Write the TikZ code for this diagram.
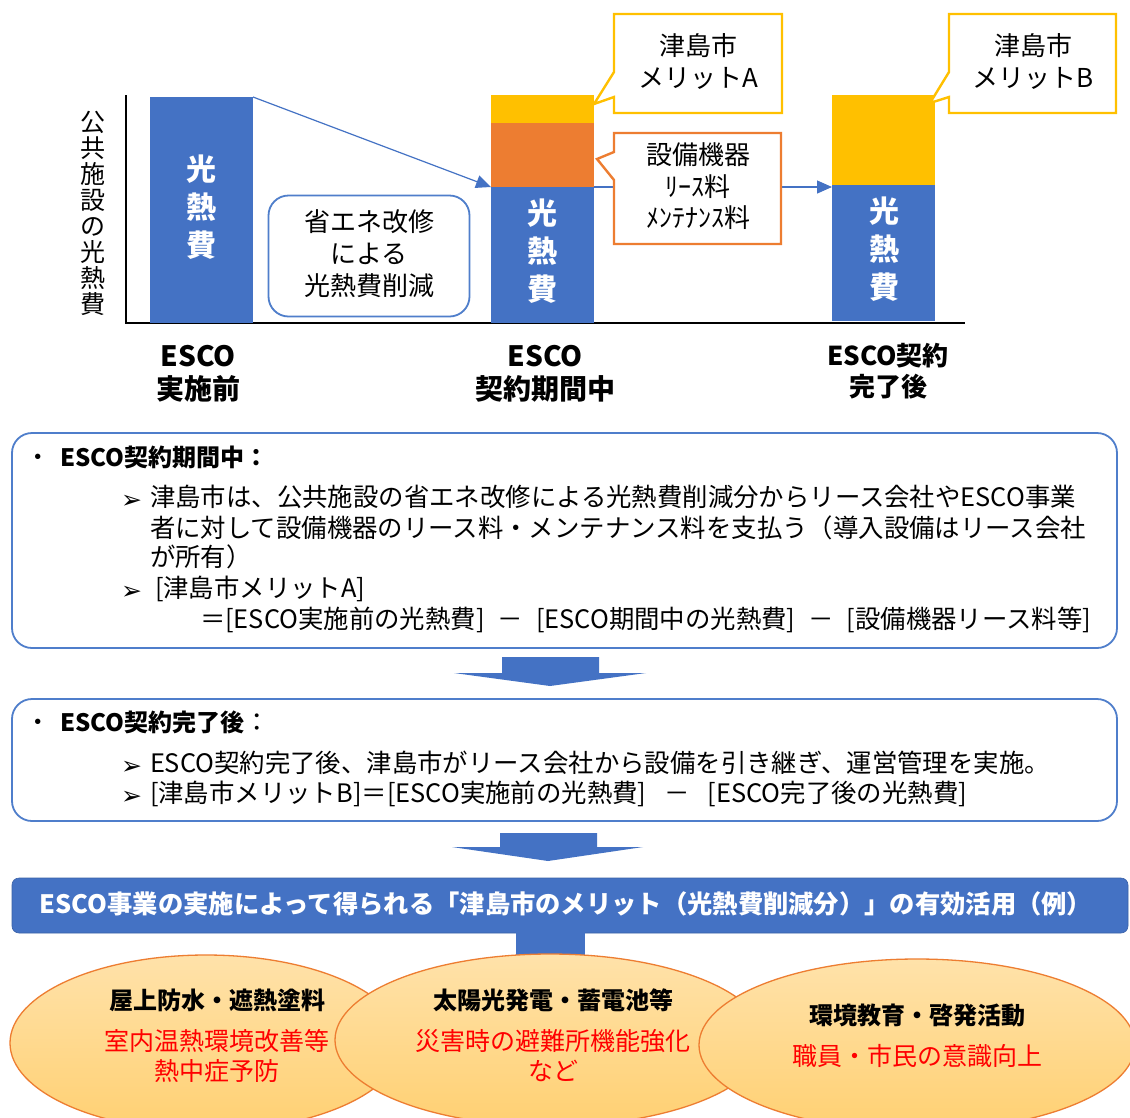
\documentclass[tikz,border=0pt]{standalone}
\usepackage{fontspec}
\setmainfont{Noto Sans CJK JP}
\newfontfamily\dvfont{DejaVu Sans}
\usetikzlibrary{arrows.meta,shapes.geometric}
\definecolor{bblue}{HTML}{4472C4}
\definecolor{borange}{HTML}{ED7D31}
\definecolor{byellow}{HTML}{FFC000}
\definecolor{lineblue}{HTML}{4F7ECB}
\definecolor{ellTop}{HTML}{FFE2AA}
\definecolor{ellBot}{HTML}{FFD072}
\newcommand\setfs[2]{\fontsize{#1}{#2}\selectfont}
\tikzset{
  barnode/.style={minimum width=103pt, anchor=north west, draw=none},
  bartext/.style={text=white, font=\setfs{30}{38}\bfseries, align=center},
  conn/.style={draw=bblue, line width=1.2pt, -{Triangle[length=15pt,width=13pt]}},
  calltext/.style={font=\setfs{26}{32}, align=center},
  lbl/.style={font=\setfs{28}{33}\bfseries, align=center},
  txtline/.style={anchor=west, font=\setfs{25.4}{30}, text height=0.88em, text depth=0.12em, yshift=-6pt},
  arrowmark/.style={anchor=west, font=\setfs{25}{26}\dvfont, yshift=-5pt},
  roundbox/.style={draw=lineblue, line width=1.8pt, rounded corners=20pt},
  bigarrow/.style={fill=bblue, draw=none},
  ellnode/.style={ellipse, draw=borange, line width=1.3pt, top color=ellTop, bottom color=ellBot},
  ehead/.style={font=\setfs{24}{28}\bfseries},
  ered/.style={font=\setfs{25}{30}, text=red, align=center},
}
\begin{document}
\begin{tikzpicture}[x=1pt,y=-1pt, every node/.style={inner sep=0pt, outer sep=0pt}]
\useasboundingbox (0,0) rectangle (1130,1117);
\fill[white] (0,0) rectangle (1130,1117);
\clip (0,0) rectangle (1130,1117);

% ---------- chart ----------
\coordinate (axtop) at (126,95);
\coordinate (axorig) at (126,323);
\coordinate (axend) at (965,323);
\draw[black, line width=1.4pt] (axtop) -- (axorig) -- (axend);

\node[font=\setfs{25}{26.1}, align=center] (ylabel) at (93,213.5) {公\\共\\施\\設\\の\\光\\熱\\費};

\node[barnode, fill=bblue, minimum height=226pt] (bar1) at (150,97) {};
\node[bartext] (bar1t) at (201,207) {光\\熱\\費};

\node[barnode, fill=byellow, minimum height=28pt] (b2y) at (491,95) {};
\node[barnode, fill=borange, minimum height=64pt] (b2o) at (491,123) {};
\node[barnode, fill=bblue, minimum height=136pt] (b2b) at (491,187) {};
\node[bartext] (bar2t) at (542,251) {光\\熱\\費};

\node[barnode, fill=byellow, minimum height=90pt] (b3y) at (832,95) {};
\node[barnode, fill=bblue, minimum height=136pt] (b3b) at (832,185) {};
\node[bartext] (bar3t) at (884,249) {光\\熱\\費};

\draw[conn] (bar1.north east) -- (b2b.north west);
\draw[conn] (b2b.north east) -- (b2b.north east -| b3b.west);

% reduction box
\node[roundbox, minimum width=201pt, minimum height=121pt, fill=white] (redbox) at (369,256) {};
\node[calltext] (redtext) at (369,253.5) {省エネ改修\\による\\光熱費削減};

% callouts
\draw[byellow, line width=2.4pt, fill=white, line join=miter]
  (614,14) -- (782,14) -- (782,113) -- (614,113) -- (614,97) -- (594,104) -- (614,72) -- cycle;
\node[calltext] (calA) at (698,61) {津島市\\メリットA};

\draw[byellow, line width=2.4pt, fill=white, line join=miter]
  (949,14) -- (1116,14) -- (1116,113) -- (949,113) -- (949,97) -- (930,103) -- (949,72) -- cycle;
\node[calltext] (calB) at (1033,61) {津島市\\メリットB};

\draw[borange, line width=2.4pt, fill=white, line join=miter]
  (614,133) -- (781,133) -- (781,244) -- (614,244) -- (614,180) -- (597,159) -- (614,152) -- cycle;
\node[calltext, font=\setfs{26}{31.5}] (calC) at (698,186.5) {設備機器\\ﾘｰｽ料\\ﾒﾝﾃﾅﾝｽ料};

% axis labels
\node[lbl] (l1) at (198,373.5) {ESCO\\実施前};
\node[lbl] (l2) at (545,373.5) {ESCO\\契約期間中};
\node[lbl, font=\setfs{26}{31}\bfseries] (l3) at (888,371) {ESCO契約\\完了後};

% ---------- box 1 ----------
\node[roundbox, minimum width=1105pt, minimum height=215pt] (box1) at (564.5,540.5) {};
\node[txtline, anchor=center] (b1dot) at (38,457) {・};
\node[txtline, font=\setfs{24}{30}\bfseries] (b1h) at (60,457) {ESCO契約期間中：};
\node[arrowmark] (b1a1) at (121,497) {➢};
\node[txtline] (b1l1) at (150,497) {津島市は、公共施設の省エネ改修による光熱費削減分からリース会社やESCO事業};
\node[txtline] (b1l2) at (150,528) {者に対して設備機器のリース料・メンテナンス料を支払う（導入設備はリース会社};
\node[txtline] (b1l3) at (150,557) {が所有）};
\node[arrowmark] (b1a2) at (121,588) {➢};
\node[txtline] (b1l4) at (155,588) {[津島市メリットA]};
\node[txtline] (b1l5) at (200,619) {＝[ESCO実施前の光熱費]\hspace{13pt}－\hspace{13pt}[ESCO期間中の光熱費]\hspace{13pt}－\hspace{13pt}[設備機器リース料等]};

% arrow 1
\fill[bigarrow] (502,657) -- (599,657) -- (599,673) -- (646,673) -- (550,686) -- (454,673) -- (502,673) -- cycle;

% ---------- box 2 ----------
\node[roundbox, minimum width=1105pt, minimum height=122pt] (box2) at (564.5,760) {};
\node[txtline, anchor=center] (b2dot) at (38,722) {・};
\node[txtline] (b2h) at (60,722) {{\setfs{24}{30}\bfseries ESCO契約完了後}：};
\node[arrowmark] (b2a1) at (121,763) {➢};
\node[txtline] (b2l1) at (150,763) {ESCO契約完了後、津島市がリース会社から設備を引き継ぎ、運営管理を実施。};
\node[arrowmark] (b2a2) at (121,793) {➢};
\node[txtline] (b2l2) at (150,793) {[津島市メリットB]＝[ESCO実施前の光熱費]\hspace{18pt}－\hspace{18pt}[ESCO完了後の光熱費]};

% arrow 2
\fill[bigarrow] (500,833) -- (597,833) -- (597,847) -- (643,847) -- (548,861) -- (452,847) -- (500,847) -- cycle;

% ---------- banner ----------
\node[fill=bblue, draw=bblue!85!black, line width=0.6pt, rounded corners=7pt, minimum width=1116pt, minimum height=55pt] (banner) at (570,905.5) {};
\node[font=\setfs{25.3}{28}\bfseries, text=white] (bannert) at (566,904) {ESCO事業の実施によって得られる「津島市のメリット（光熱費削減分）」の有効活用（例）};
\fill[bblue] (516,930) rectangle (585,960);

% ---------- ellipses ----------
\node[ellnode, minimum width=392pt, minimum height=176pt] (e1) at (206,1043) {};
\node[ellnode, minimum width=430pt, minimum height=172pt] (e2) at (550,1040) {};
\node[ellnode, minimum width=436pt, minimum height=172pt] (e3) at (917,1045) {};

\node[ehead] (e1h) at (217,1000) {屋上防水・遮熱塗料};
\node[ered] (e1r) at (217,1056) {室内温熱環境改善等\\熱中症予防};
\node[ehead] (e2h) at (553,1000) {太陽光発電・蓄電池等};
\node[ered] (e2r) at (553,1056) {災害時の避難所機能強化\\など};
\node[ehead] (e3h) at (917,1015) {環境教育・啓発活動};
\node[ered] (e3r) at (917,1056) {職員・市民の意識向上};
\end{tikzpicture}
\end{document}
